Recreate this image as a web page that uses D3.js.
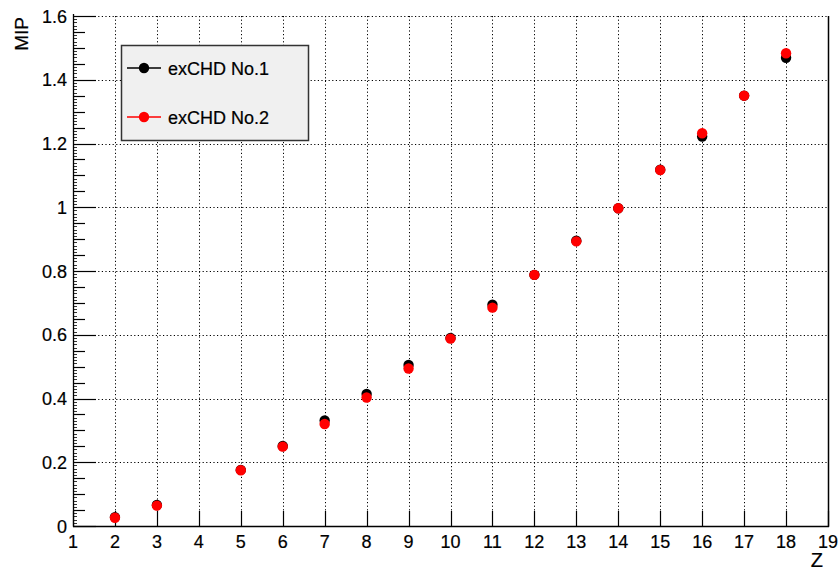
<!DOCTYPE html>
<html>
<head>
<meta charset="utf-8">
<script src="https://cdn.jsdelivr.net/npm/d3@7"></script>
<style>
  html, body { margin: 0; padding: 0; background: #fff; }
  svg { display: block; font-family: "Liberation Sans", Arial, Helvetica, sans-serif; }
</style>
</head>
<body>
<svg id="chart" width="839" height="572"></svg>
<script>
// Charge (Z) of the ion and the measured signal in MIP units for two detectors
const zValues = [2, 3, 5, 6, 7, 8, 9, 10, 11, 12, 13, 14, 15, 16, 17, 18];
const chd1 = [0.028, 0.066, 0.176, 0.251, 0.331, 0.414, 0.505, 0.590, 0.694, 0.788, 0.895, 0.997, 1.118, 1.222, 1.350, 1.469];
const chd2 = [0.026, 0.064, 0.175, 0.249, 0.320, 0.403, 0.494, 0.588, 0.685, 0.788, 0.893, 0.997, 1.117, 1.232, 1.350, 1.483];
const seriesNames = ["exCHD No.1", "exCHD No.2"];
const seriesColors = ["#000000", "#ff0000"];
const xTicks = d3.range(1, 20);
const yTicks = [0, 0.2, 0.4, 0.6, 0.8, 1, 1.2, 1.4, 1.6];

const svg = d3.select("#chart");
const frame = { left: 73, right: 828, top: 16, bottom: 526 };

const x = d3.scaleLinear().domain([1, 19]).range([frame.left, frame.right]);
const y = d3.scaleLinear().domain([0, 1.6]).range([frame.bottom, frame.top]);

// dotted grid
const grid = svg.append("g").attr("stroke", "#000").attr("stroke-width", 1)
  .attr("stroke-dasharray", "1.2,2.4");
grid.selectAll("line.gx").data(xTicks.filter(t => t > 1 && t < 19)).join("line")
  .attr("x1", d => Math.round(x(d)) + 0.5).attr("x2", d => Math.round(x(d)) + 0.5)
  .attr("y1", frame.top).attr("y2", frame.bottom);
grid.selectAll("line.gy").data(yTicks.filter(t => t > 0)).join("line")
  .attr("x1", frame.left).attr("x2", frame.right)
  .attr("y1", d => Math.round(y(d)) + 0.5).attr("y2", d => Math.round(y(d)) + 0.5);

// axes with inward ticks
const axes = svg.append("g").attr("stroke", "#000").attr("fill", "none");
axes.append("line").attr("x1", frame.left).attr("x2", frame.right + 1)
  .attr("y1", frame.bottom + 0.5).attr("y2", frame.bottom + 0.5).attr("stroke-width", 1.3);
axes.append("line").attr("x1", frame.left + 0.5).attr("x2", frame.left + 0.5)
  .attr("y1", frame.top - 2).attr("y2", frame.bottom + 1).attr("stroke-width", 1.3);
axes.append("line").attr("x1", frame.right + 0.5).attr("x2", frame.right + 0.5)
  .attr("y1", frame.top).attr("y2", frame.bottom + 1).attr("stroke-width", 1.5);

axes.selectAll("line.tx").data(xTicks).join("line")
  .attr("x1", d => Math.round(x(d)) + 0.5).attr("x2", d => Math.round(x(d)) + 0.5)
  .attr("y1", frame.bottom).attr("y2", frame.bottom - 15).attr("stroke-width", 1.2);

const yMinor = d3.range(0, 161).map(i => i / 100);
axes.selectAll("line.ty").data(yMinor).join("line")
  .attr("x1", frame.left)
  .attr("x2", d => {
    const k = Math.round(d * 100);
    if (k % 20 === 0) return frame.left + 23;
    if (k % 5 === 0) return frame.left + 12;
    return frame.left + 4;
  })
  .attr("y1", d => Math.round(y(d)) + 0.5).attr("y2", d => Math.round(y(d)) + 0.5)
  .attr("stroke-width", d => Math.round(d * 100) % 5 === 0 ? 1.2 : 0.8);

// tick labels
svg.append("g").selectAll("text").data(xTicks).join("text")
  .attr("x", d => x(d)).attr("y", 548)
  .attr("text-anchor", "middle").attr("font-size", 18).attr("fill", "#000")
  .attr("stroke", "#000").attr("stroke-width", 0.2)
  .text(d => d);
svg.append("g").selectAll("text").data(yTicks).join("text")
  .attr("x", 67).attr("y", d => y(d) + 6.5)
  .attr("text-anchor", "end").attr("font-size", 18).attr("fill", "#000")
  .attr("stroke", "#000").attr("stroke-width", 0.2)
  .text(d => d3.format("~g")(d));

// axis titles
svg.append("text").attr("x", 823).attr("y", 567).attr("text-anchor", "end")
  .attr("font-size", 20).attr("stroke", "#000").attr("stroke-width", 0.2).text("Z");
svg.append("text").attr("transform", "translate(28,17) rotate(-90)")
  .attr("text-anchor", "end").attr("font-size", 19)
  .attr("stroke", "#000").attr("stroke-width", 0.2).text("MIP");

// data points: detector 1 below detector 2
const series = [chd1, chd2];
series.forEach((vals, i) => {
  svg.append("g").selectAll("circle").data(zValues.map((z, j) => [z, vals[j]])).join("circle")
    .attr("cx", d => x(d[0])).attr("cy", d => y(d[1])).attr("r", 5.2)
    .attr("fill", seriesColors[i]);
});

// legend
const legend = svg.append("g");
legend.append("rect").attr("x", 121.5).attr("y", 45.5).attr("width", 187).attr("height", 95)
  .attr("fill", "#f0f0f0").attr("stroke", "#333").attr("stroke-width", 1.5);
const legendY = [68, 117];
seriesNames.forEach((name, i) => {
  legend.append("line").attr("x1", 127).attr("x2", 161).attr("y1", legendY[i]).attr("y2", legendY[i])
    .attr("stroke", seriesColors[i]).attr("stroke-width", 1.5);
  legend.append("circle").attr("cx", 144).attr("cy", legendY[i]).attr("r", 5.2).attr("fill", seriesColors[i]);
  legend.append("text").attr("x", 168).attr("y", legendY[i] + 6.5).attr("font-size", 18)
    .attr("fill", "#000").attr("stroke", "#000").attr("stroke-width", 0.2).text(name);
});
</script>
</body>
</html>
